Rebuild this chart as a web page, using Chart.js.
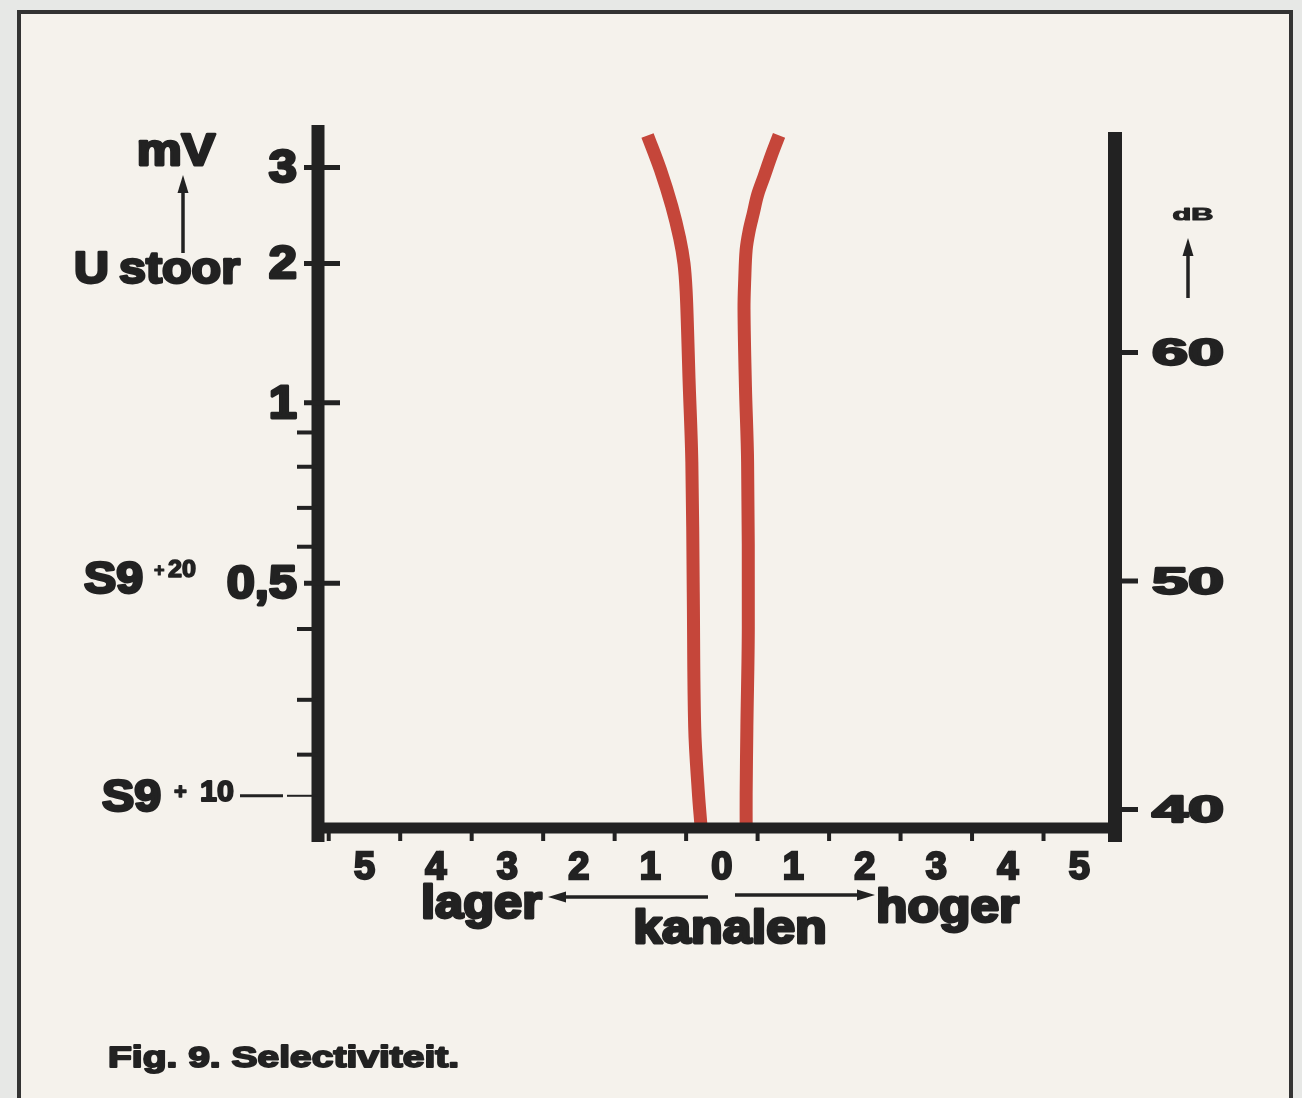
<!DOCTYPE html>
<html>
<head>
<meta charset="utf-8">
<title>Fig. 9. Selectiviteit</title>
<script src="https://cdn.jsdelivr.net/npm/chart.js@4.4.1/dist/chart.umd.min.js"></script>
<style>
    html, body { margin: 0; padding: 0; background: #e7e8e6; }
    #wrap { width: 1302px; height: 1098px; }
</style>
</head>
<body>
<div id="wrap"><canvas id="selChart" width="1302" height="1098"></canvas></div>
<script>
// curves: channel offset (kanalen) vs level in dB (right axis)
const leftCurveCh = [-1.04, -0.86, -0.70, -0.59, -0.53, -0.50, -0.48, -0.46, -0.42, -0.40, -0.38, -0.33, -0.29];
const leftCurveDb = [69.5, 68.0, 66.4, 65.0, 63.9, 62.7, 61.0, 58.9, 55.2, 49.5, 43.6, 40.8, 39.2];
const rightCurveCh = [0.80, 0.69, 0.59, 0.50, 0.44, 0.38, 0.34, 0.32, 0.31, 0.33, 0.36, 0.37, 0.35, 0.34, 0.34];
const rightCurveDb = [69.5, 68.6, 67.7, 66.9, 66.1, 65.3, 64.5, 63.2, 61.9, 58.5, 55.2, 48.0, 43.6, 40.7, 39.2];

// x axis
const channelTicks = [-5, -4, -3, -2, -1, 0, 1, 2, 3, 4, 5];
const channelLabels = ["5", "4", "3", "2", "1", "0", "1", "2", "3", "4", "5"];
const channelMarks = [-5.5, -4.5, -3.5, -2.5, -1.5, -0.5, 0.5, 1.5, 2.5, 3.5, 4.5];

// right axis (dB)
const dbTicks = [40, 50, 60];

// left axis (mV), placed where the figure draws them on the dB scale
const mvTickDb = [68.1, 63.9, 57.8, 49.9];
const mvTickLabels = ["3", "2", "1", "0,5"];
const mvMinorDb = [56.5, 55.0, 53.2, 51.5, 47.9, 44.8, 42.4];
const s9plus10Db = 40.6;

const INK = "#222";
const RED = "#c5463a";
const FONT = "'Liberation Sans', Arial, sans-serif";

function text(ctx, s, x, y, size, align, stretch) {
    ctx.save();
    ctx.font = "bold " + size + "px " + FONT;
    ctx.fillStyle = INK;
    ctx.strokeStyle = INK;
    ctx.lineWidth = size / 16;
    ctx.lineJoin = "round";
    ctx.textAlign = align || "left";
    ctx.textBaseline = "alphabetic";
    ctx.translate(x, y);
    ctx.scale(stretch || 1, 1);
    ctx.fillText(s, 0, 0);
    ctx.strokeText(s, 0, 0);
    ctx.restore();
}

function line(ctx, x1, y1, x2, y2, w) {
    ctx.beginPath();
    ctx.lineWidth = w;
    ctx.moveTo(x1, y1);
    ctx.lineTo(x2, y2);
    ctx.stroke();
}

function arrow(ctx, x1, y1, x2, y2) {
    // shaft from (x1,y1) to the tip at (x2,y2)
    const ang = Math.atan2(y2 - y1, x2 - x1);
    const len = 18, half = 5.5;
    line(ctx, x1, y1, x2 - Math.cos(ang) * len * 0.8, y2 - Math.sin(ang) * len * 0.8, 3.5);
    ctx.beginPath();
    ctx.moveTo(x2, y2);
    ctx.lineTo(x2 - Math.cos(ang) * len - Math.sin(ang) * half, y2 - Math.sin(ang) * len + Math.cos(ang) * half);
    ctx.lineTo(x2 - Math.cos(ang) * len + Math.sin(ang) * half, y2 - Math.sin(ang) * len - Math.cos(ang) * half);
    ctx.closePath();
    ctx.fill();
}

const paperPlugin = {
    id: "paper",
    beforeDraw(chart) {
        const ctx = chart.ctx;
        ctx.save();
        ctx.fillStyle = "#e7e8e6";
        ctx.fillRect(0, 0, chart.width, chart.height);
        ctx.fillStyle = "#f5f2ec";
        ctx.fillRect(19, 12, 1272, chart.height);
        ctx.strokeStyle = "#333";
        ctx.lineWidth = 4;
        ctx.beginPath();
        ctx.moveTo(19, chart.height + 5);
        ctx.lineTo(19, 12);
        ctx.lineTo(1291, 12);
        ctx.lineTo(1291, chart.height + 5);
        ctx.stroke();
        ctx.restore();
    },
    afterDatasetsDraw(chart) {
        const ctx = chart.ctx;
        const a = chart.chartArea;
        const xs = chart.scales.x;
        const ys = chart.scales.y;
        ctx.save();
        ctx.strokeStyle = INK;
        ctx.fillStyle = INK;
        ctx.lineCap = "butt";

        // axis frame
        line(ctx, a.left, a.top - 7, a.left, a.bottom + 14, 13);
        line(ctx, a.right, a.top, a.right, a.bottom + 14, 14);
        line(ctx, a.left - 6, a.bottom, a.right + 7, a.bottom, 11);

        // left axis ticks and labels
        mvTickDb.forEach((v, i) => {
            const y = ys.getPixelForValue(v);
            line(ctx, a.left - 14, y, a.left + 22, y, 5);
            text(ctx, mvTickLabels[i], a.left - 21, y + 15, 46, "right", 1.1);
        });
        mvMinorDb.forEach(v => {
            const y = ys.getPixelForValue(v);
            line(ctx, a.left - 21, y, a.left, y, 4);
        });
        const yS10 = ys.getPixelForValue(s9plus10Db);
        line(ctx, a.left - 78, yS10, a.left - 35, yS10, 3);
        line(ctx, a.left - 31, yS10, a.left, yS10, 2);

        // bottom ticks between the channel numbers
        channelMarks.forEach(v => {
            const x = xs.getPixelForValue(v);
            line(ctx, x, a.bottom + 4, x, a.bottom + 13, 4);
        });

        // right axis ticks and labels
        dbTicks.forEach(v => {
            const y = ys.getPixelForValue(v);
            line(ctx, a.right + 7, y, a.right + 23, y, 5);
            text(ctx, String(v), a.right + 37, y + 13, 37, "left", 1.75);
        });
        text(ctx, "dB", a.right + 78, 220, 17, "center", 1.8);
        arrow(ctx, a.right + 73, 298, a.right + 73, 238);

        // left axis title
        text(ctx, "mV", 176, 165, 44, "center", 1.15);
        arrow(ctx, 183, 253, 183, 175);
        text(ctx, "U", 74, 283, 44, "left", 1.1);
        text(ctx, "stoor", 119, 283, 44, "left", 1.1);

        // S9 markers
        const y05 = ys.getPixelForValue(mvTickDb[3]);
        text(ctx, "S9", 84, y05 + 10, 44, "left", 1.1);
        text(ctx, "+", 154, y05 - 7, 18, "left");
        text(ctx, "20", 168, y05 - 6, 24, "left", 1.05);
        text(ctx, "S9", 102, yS10 + 15, 44, "left", 1.1);
        text(ctx, "+", 174, yS10 + 3, 22, "left");
        text(ctx, "10", 200, yS10 + 5, 29, "left", 1.05);

        // x axis title
        text(ctx, "lager", 421, 918, 46, "left", 1.1);
        arrow(ctx, 708, 897, 548, 897);
        text(ctx, "kanalen", 730, 943, 46, "center", 1.13);
        arrow(ctx, 735, 895, 875, 895);
        text(ctx, "hoger", 876, 922, 46, "left", 1.12);

        // caption
        text(ctx, "Fig. 9. Selectiviteit.", 108, 1067, 30, "left", 1.3);
        ctx.restore();
    }
};

const ctx = document.getElementById("selChart").getContext("2d");

const curve = (chs, dbs) => chs.map((c, i) => ({ x: c, y: dbs[i] }));

const lineStyle = {
    borderColor: RED,
    borderWidth: 13,
    pointRadius: 0,
    tension: 0.35,
    fill: false,
    borderCapStyle: "butt",
    borderJoinStyle: "round",
    yAxisID: "y",
};

new Chart(ctx, {
    type: "line",
    data: {
        datasets: [
            Object.assign({ label: "lager", data: curve(leftCurveCh, leftCurveDb) }, lineStyle),
            Object.assign({ label: "hoger", data: curve(rightCurveCh, rightCurveDb) }, lineStyle),
        ],
    },
    options: {
        responsive: false,
        animation: false,
        events: [],
        layout: { padding: { top: 132, left: 318, right: 0, bottom: 0 } },
        plugins: {
            legend: { display: false },
            tooltip: { enabled: false },
        },
        scales: {
            x: {
                type: "linear",
                min: -5.65,
                max: 5.5,
                grid: { display: false, drawTicks: false },
                border: { display: false },
                afterBuildTicks: s => { s.ticks = channelTicks.map(v => ({ value: v })); },
                afterFit: s => { s.height = 270; },
                ticks: {
                    callback: (v, i) => channelLabels[i],
                    autoSkip: false,
                    maxRotation: 0,
                    padding: 18,
                    color: INK,
                    textStrokeColor: INK,
                    textStrokeWidth: 2.4,
                    font: { family: FONT, size: 38, weight: "bold" },
                },
            },
            y: {
                position: "right",
                min: 39.19,
                max: 69.65,
                grid: { display: false, drawTicks: false },
                border: { display: false },
                ticks: { display: false },
                afterFit: s => { s.width = 187; },
            },
        },
    },
    plugins: [paperPlugin],
});
</script>
</body>
</html>
